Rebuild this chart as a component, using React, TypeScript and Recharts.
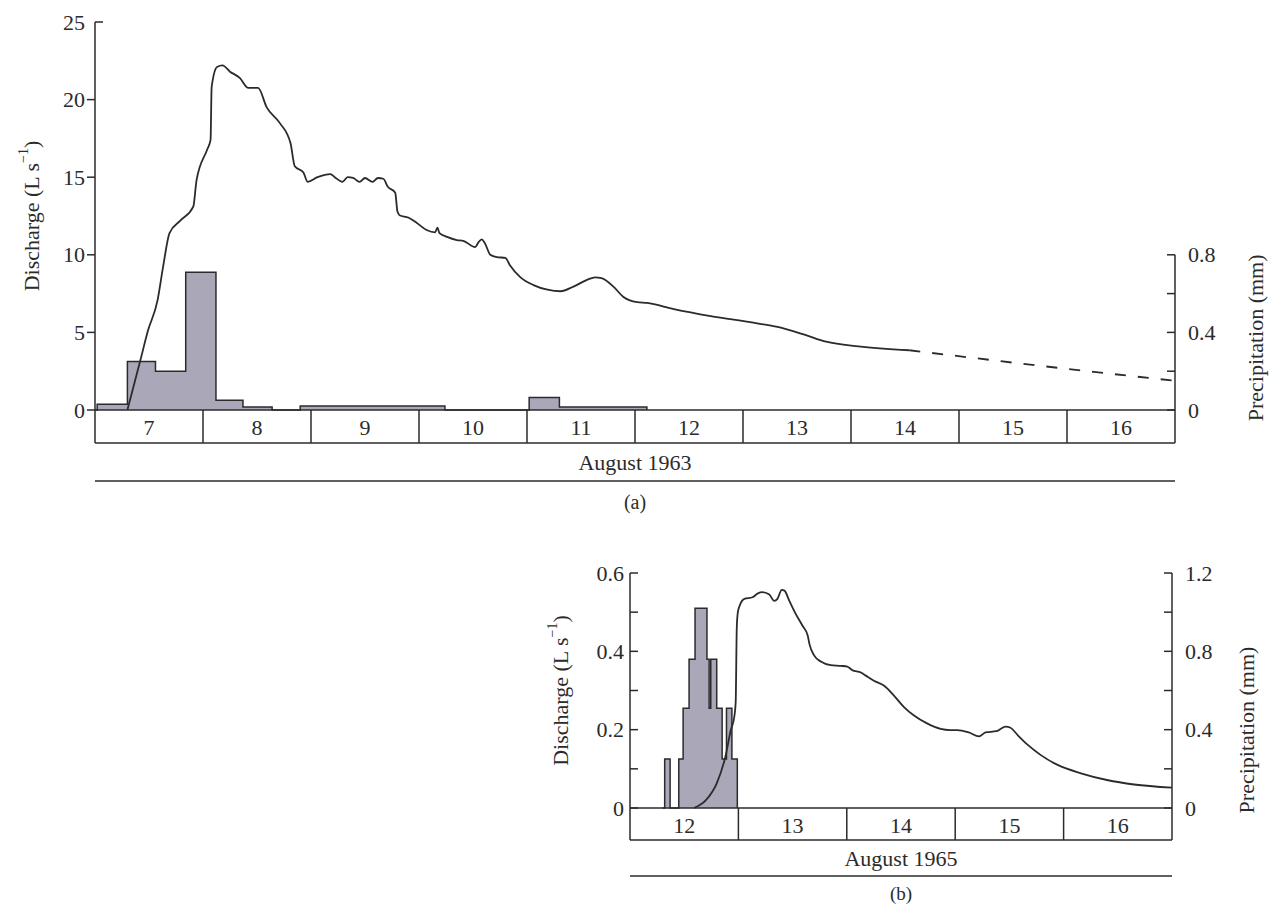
import type { ReactNode } from 'react';
import { ComposedChart, Line, Area, XAxis, YAxis, ReferenceLine } from 'recharts';

const FONT = "'Liberation Serif', 'Times New Roman', serif";
const INK = '#2b2b2b';
const BAR_FILL = '#aaa8b8';

// (a) August 1963
const daysA = [7, 8, 9, 10, 11, 12, 13, 14, 15, 16];
const timeA = [
  7.3, 7.42, 7.49, 7.58, 7.63, 7.69, 7.79, 7.91, 7.94, 8.04, 8.07, 8.08, 8.13, 8.18, 8.25, 8.34,
  8.42, 8.51, 8.59, 8.71, 8.81, 8.85, 8.93, 8.97, 9.06, 9.18, 9.22, 9.29, 9.34, 9.39, 9.45, 9.5,
  9.57, 9.62, 9.67, 9.71, 9.78, 9.8, 9.82, 9.9, 9.98, 10.07, 10.15, 10.17, 10.19, 10.26, 10.35,
  10.41, 10.52, 10.55, 10.58, 10.61, 10.66, 10.72, 10.8, 10.84, 10.94, 11.06, 11.19, 11.31, 11.43,
  11.56, 11.63, 11.69, 11.8, 11.89, 12.02, 12.11, 12.36, 12.7, 13.12, 13.32, 13.57, 13.77, 14.07,
  14.54,
];
const dischargeA = [
  0, 3.2, 5.1, 7.1, 9.2, 11.4, 12.2, 13.1, 14.8, 16.8, 17.4, 20.8, 22.1, 22.2, 21.8, 21.4,
  20.75, 20.75, 19.5, 18.5, 17.2, 15.7, 15.3, 14.7, 15.0, 15.2, 15.0, 14.7, 15.0, 14.95, 14.7, 14.95,
  14.7, 14.95, 14.9, 14.4, 14.0, 12.8, 12.55, 12.4, 12.05, 11.6, 11.45, 11.75, 11.4, 11.15, 10.95,
  10.9, 10.5, 10.8, 11.0, 10.75, 10.0, 9.85, 9.8, 9.35, 8.55, 8.05, 7.75, 7.65, 7.95,
  8.4, 8.55, 8.5, 7.95, 7.3, 6.95, 6.9, 6.5, 6.05, 5.6, 5.35, 4.85, 4.4, 4.1,
  3.85,
];
const estTimeA = [14.54, 15.5, 16.25, 17.0];
const estDischargeA = [3.85, 3.05, 2.45, 1.88];
const rainTimeA = [7.0, 7.02, 7.3, 7.56, 7.84, 8.12, 8.37, 8.64, 8.9, 10.24, 11.02, 11.3, 12.11];
const rainA = [0, 0.03, 0.25, 0.2, 0.71, 0.05, 0.015, 0, 0.02, 0, 0.065, 0.015, 0];
const dischargeTicksA = [0, 5, 10, 15, 20, 25];
const rainTicksA = [0, 0.2, 0.4, 0.6, 0.8];
const rainLabelsA = [0, 0.4, 0.8];

// (b) August 1965
const daysB = [12, 13, 14, 15, 16];
const timeB = [
  12.59, 12.7, 12.8, 12.88, 12.93, 12.962, 12.975, 12.985, 12.995, 13.01, 13.055, 13.13, 13.18,
  13.22, 13.285, 13.33, 13.36, 13.4, 13.425, 13.47, 13.53, 13.59, 13.64, 13.655, 13.7, 13.76,
  13.85, 13.945, 14.005, 14.05, 14.13, 14.175, 14.25, 14.345, 14.435, 14.53, 14.62, 14.74, 14.865,
  14.955, 15.02, 15.125, 15.22, 15.28, 15.38, 15.425, 15.465, 15.51, 15.58, 15.67, 15.79, 15.945,
  16.16, 16.4, 16.65, 17.0,
];
const dischargeB = [
  0, 0.02, 0.063, 0.131, 0.199, 0.233, 0.27, 0.46, 0.5, 0.515, 0.534, 0.538, 0.548,
  0.551, 0.545, 0.529, 0.534, 0.557, 0.555, 0.529, 0.495, 0.466, 0.44, 0.419, 0.389, 0.374,
  0.365, 0.363, 0.361, 0.352, 0.346, 0.338, 0.325, 0.312, 0.287, 0.257, 0.236, 0.216, 0.202,
  0.199, 0.199, 0.193, 0.183, 0.193, 0.196, 0.203, 0.208, 0.205, 0.185, 0.161, 0.135, 0.11,
  0.0886, 0.0715, 0.06, 0.052,
];
const rainTimeB = [12.3, 12.32, 12.37, 12.45, 12.49, 12.545, 12.6, 12.71, 12.73, 12.745, 12.8, 12.85, 12.89, 12.94, 12.99];
const rainB = [0, 0.25, 0, 0.25, 0.51, 0.76, 1.02, 0.76, 0.51, 0.76, 0.51, 0.25, 0.51, 0.25, 0];
const dischargeTicksB = [0, 0.1, 0.2, 0.3, 0.4, 0.5, 0.6];
const dischargeLabelsB = [0, 0.2, 0.4, 0.6];
const rainTicksB = [0, 0.2, 0.4, 0.6, 0.8, 1.0, 1.2];
const rainLabelsB = [0, 0.4, 0.8, 1.2];

const zip = (t: number[], v: number[]) => t.map((x, i) => ({ t: x, v: v[i] }));
const dayTicks = (days: number[]) => [...days.flatMap((d) => [d, d + 0.5]), days[days.length - 1] + 1];

const axisLine = { stroke: INK, strokeWidth: 1.5 };

// boxes under the plot: integer ticks are the box walls, half ticks carry the day number
const dayTick = (boxH: number) => (props: any) => {
  const { x, y, payload } = props;
  const v = payload.value as number;
  if (Number.isInteger(v)) {
    return <line x1={x} y1={y} x2={x} y2={y + boxH} stroke={INK} strokeWidth={1.5} />;
  }
  return (
    <text x={x} y={y + boxH / 2 + 1} textAnchor="middle" dominantBaseline="central" fontFamily={FONT} fontSize={22} fill={INK}>
      {Math.floor(v)}
    </text>
  );
};

const yTick = (side: 'left' | 'right', inward: boolean, labels: number[], cap: number, gap: number) => (props: any) => {
  const { x, y, payload } = props;
  const v = payload.value as number;
  const out = side === 'left' ? -1 : 1;
  const dir = inward || v === cap ? -out : out;
  return (
    <g>
      <line x1={x} y1={y} x2={x + dir * 8} y2={y} stroke={INK} strokeWidth={1.5} />
      {labels.includes(v) && (
        <text
          x={x + out * gap}
          y={y}
          textAnchor={side === 'left' ? 'end' : 'start'}
          dominantBaseline="central"
          fontFamily={FONT}
          fontSize={22}
          fill={INK}
        >
          {String(v)}
        </text>
      )}
    </g>
  );
};

const caption = (text: string, dy: number, size = 22) => (props: any) => {
  const vb = props.viewBox;
  return (
    <text x={vb.x + vb.width / 2} y={vb.y + dy} textAnchor="middle" dominantBaseline="central" fontFamily={FONT} fontSize={size} fill={INK}>
      {text}
    </text>
  );
};

const vTitle = (children: ReactNode, dx: number, f: number) => (props: any) => {
  const vb = props.viewBox;
  const x = vb.x + dx;
  const y = vb.y + vb.height * f;
  return (
    <text x={x} y={y} transform={`rotate(-90 ${x} ${y})`} textAnchor="middle" dominantBaseline="central" fontFamily={FONT} fontSize={22} fill={INK}>
      {children}
    </text>
  );
};

const dischargeTitle = (
  <>
    Discharge (L s<tspan dy={-8} fontSize={14}>−1</tspan>
    <tspan dy={8}>)</tspan>
  </>
);

export default function App() {
  return (
    <div style={{ position: 'absolute', left: 0, top: 0, width: 1270, height: 906, background: '#fff', overflow: 'hidden' }}>
      <div style={{ position: 'absolute', left: 0, top: 0 }}>
        <ComposedChart width={1270} height={530} margin={{ top: 22, right: 0, bottom: 4, left: 0 }}>
          <XAxis
            dataKey="t"
            type="number"
            domain={[7, 17]}
            ticks={dayTicks(daysA)}
            interval={0}
            tick={dayTick(33)}
            tickLine={false}
            tickSize={0}
            tickMargin={0}
            height={33}
            axisLine={axisLine}
          />
          <XAxis xAxisId="b2" type="number" domain={[7, 17]} tick={false} tickLine={false} height={38} axisLine={axisLine} label={caption('August 1963', 19)} />
          <XAxis xAxisId="b3" type="number" domain={[7, 17]} tick={false} tickLine={false} height={45} axisLine={axisLine} label={caption('(a)', 21, 20)} />
          <YAxis
            yAxisId="q"
            type="number"
            domain={[0, 25]}
            ticks={dischargeTicksA}
            interval={0}
            width={95}
            tickLine={false}
            tickSize={0}
            tickMargin={0}
            tick={yTick('left', false, dischargeTicksA, 25, 10)}
            axisLine={axisLine}
            label={vTitle(dischargeTitle, 31, 0.5)}
          />
          <YAxis
            yAxisId="p"
            orientation="right"
            type="number"
            domain={[0, 2]}
            ticks={rainTicksA}
            interval={0}
            width={95}
            tickLine={false}
            tickSize={0}
            tickMargin={0}
            tick={yTick('right', true, rainLabelsA, 0.8, 13)}
            axisLine={false}
            label={vTitle('Precipitation (mm)', 81, 0.814)}
          />
          <ReferenceLine yAxisId="p" segment={[{ x: 17, y: 0 }, { x: 17, y: 0.8 }]} stroke={INK} strokeWidth={1.5} ifOverflow="visible" />
          <Area
            yAxisId="p"
            data={zip(rainTimeA, rainA)}
            dataKey="v"
            type="stepAfter"
            fill={BAR_FILL}
            fillOpacity={1}
            stroke={INK}
            strokeWidth={1.5}
            dot={false}
            activeDot={false}
            isAnimationActive={false}
          />
          <Line yAxisId="q" data={zip(timeA, dischargeA)} dataKey="v" type="monotone" stroke={INK} strokeWidth={1.8} dot={false} activeDot={false} isAnimationActive={false} />
          <Line
            yAxisId="q"
            data={zip(estTimeA, estDischargeA)}
            dataKey="v"
            type="linear"
            stroke={INK}
            strokeWidth={1.8}
            strokeDasharray="11 12"
            dot={false}
            activeDot={false}
            isAnimationActive={false}
          />
        </ComposedChart>
      </div>
      <div style={{ position: 'absolute', left: 0, top: 520 }}>
        <ComposedChart width={1270} height={386} margin={{ top: 53, right: 3, bottom: 0, left: 535 }}>
          <XAxis
            dataKey="t"
            type="number"
            domain={[12, 17]}
            ticks={dayTicks(daysB)}
            interval={0}
            tick={dayTick(32)}
            tickLine={false}
            tickSize={0}
            tickMargin={0}
            height={32}
            axisLine={axisLine}
          />
          <XAxis xAxisId="b2" type="number" domain={[12, 17]} tick={false} tickLine={false} height={36} axisLine={axisLine} label={caption('August 1965', 18)} />
          <XAxis xAxisId="b3" type="number" domain={[12, 17]} tick={false} tickLine={false} height={30} axisLine={axisLine} label={caption('(b)', 17, 19)} />
          <YAxis
            yAxisId="q"
            type="number"
            domain={[0, 0.6]}
            ticks={dischargeTicksB}
            interval={0}
            width={95}
            tickLine={false}
            tickSize={0}
            tickMargin={0}
            tick={yTick('left', true, dischargeLabelsB, 0.6, 6)}
            axisLine={axisLine}
            label={vTitle(dischargeTitle, 25, 0.5)}
          />
          <YAxis
            yAxisId="p"
            orientation="right"
            type="number"
            domain={[0, 1.2]}
            ticks={rainTicksB}
            interval={0}
            width={95}
            tickLine={false}
            tickSize={0}
            tickMargin={0}
            tick={yTick('right', true, rainLabelsB, 1.2, 13)}
            axisLine={axisLine}
            label={vTitle('Precipitation (mm)', 75, 0.668)}
          />
          <Area
            yAxisId="p"
            data={zip(rainTimeB, rainB)}
            dataKey="v"
            type="stepAfter"
            fill={BAR_FILL}
            fillOpacity={1}
            stroke={INK}
            strokeWidth={1.5}
            dot={false}
            activeDot={false}
            isAnimationActive={false}
          />
          <Line yAxisId="q" data={zip(timeB, dischargeB)} dataKey="v" type="monotone" stroke={INK} strokeWidth={1.8} dot={false} activeDot={false} isAnimationActive={false} />
        </ComposedChart>
      </div>
    </div>
  );
}
